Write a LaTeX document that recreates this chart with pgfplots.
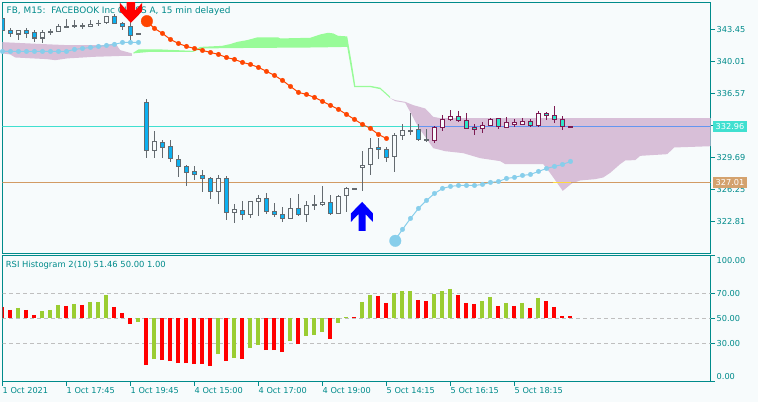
\documentclass[border=0pt]{standalone}
\usepackage{pgfplots}
\usepackage{fontspec}
\setmainfont{DejaVu Sans}
\pgfplotsset{compat=1.18}
\definecolor{bgc}{HTML}{F7FBFC}
\definecolor{frm}{HTML}{008B8B}
\definecolor{grayc}{HTML}{646B70}
\definecolor{bluec}{HTML}{0CB0F0}
\definecolor{marc}{HTML}{7D1A52}
\definecolor{cyanc}{HTML}{30E6C8}
\definecolor{thist}{HTML}{D8BFD8}
\definecolor{palg}{HTML}{98FB98}
\definecolor{orr}{HTML}{FF4500}
\definecolor{skyb}{HTML}{87CEEB}
\definecolor{turq}{HTML}{40E0D0}
\definecolor{tanl}{HTML}{D29B64}
\definecolor{tanb}{HTML}{D4A26E}
\definecolor{lineb}{HTML}{6496F0}
\definecolor{goldl}{HTML}{FFD83C}
\definecolor{barg}{HTML}{9ACD32}
% {wick}{fill}{index}{high}{low}{body top}{body bottom}
\newcommand\candle[7]{%
  \pgfmathsetmacro\xa{#3-0.25}\pgfmathsetmacro\xb{#3+0.25}%
  \addplot[#1,line width=1.15pt,forget plot] coordinates {(#3,#4)(#3,#5)};
  \edef\tmp{\noexpand\addplot[draw=#1,fill=#2,line width=1.15pt,forget plot] coordinates {(\xa,#6)(\xb,#6)(\xb,#7)(\xa,#7)} -- cycle;}\tmp
}
\newcommand\gb{\candle{grayc}{bluec}}
\newcommand\gw{\candle{grayc}{bgc}}
\newcommand\mc{\candle{marc}{cyanc}}
\newcommand\mw{\candle{marc}{bgc}}
\pgfplotsset{panel/.style={
  scale only axis, width=708pt,
  axis line style={frm,line width=1pt},
  tick style={frm,line width=1pt},
  major tick length=4.5pt, tick align=outside,
  ytick pos=right, yticklabel pos=right,
  ticklabel style={frm,font=\fontsize{8.2}{10}\selectfont,inner sep=0pt},
  yticklabel style={anchor=west,xshift=1.5pt},
  clip=true}}
\begin{document}
\begin{tikzpicture}[x=1pt,y=1pt]
\fill[bgc] (0,0) rectangle (758,402);
\begin{axis}[panel, at={(2.5pt,148.5pt)}, anchor=south west, height=251pt,
  xmin=0, xmax=88.5,
  ymin=319.325, ymax=346.35, xtick=\empty,
  ytick={322.81,326.25,329.69,333.13,336.57,340.01,343.45},
  yticklabels={322.81,326.25,329.69,333.13,336.57,340.01,343.45}]
% kumo, thistle, left part
\addplot[fill=thist,draw=none,forget plot] coordinates {(-0.04,342.08)(5.09,341.87)(8.09,341.76)(12.84,341.76)(14.09,341.97)(14.71,341.22)(16.18,340.87)(16.18,340.61)(15.34,340.61)(11.34,340.50)(10.09,340.43)(8.09,340.33)(6.59,340.14)(5.59,340.25)(1.59,340.43)(0.96,340.76)(-0.04,340.87)} -- cycle;
% kumo, green
\addplot[fill=palg,draw=none,forget plot] coordinates {(16.38,340.97)(17.0,341.30)(19.71,341.30)(23.84,341.14)(24.71,341.57)(27.43,341.68)(28.46,341.87)(29.34,342.11)(30.59,342.30)(31.84,342.59)(34.46,342.59)(34.71,342.48)(38.46,342.55)(39.71,342.91)(40.71,343.09)(41.34,343.02)(41.96,342.76)(43.09,342.70)(43.34,341.40)(43.63,339.96)(43.96,338.17)(44.09,337.38)(45.96,337.38)(47.21,337.18)(48.46,336.21)(48.46,336.05)(47.21,337.02)(45.96,337.24)(43.96,337.24)(43.71,338.53)(43.34,340.33)(43.09,341.57)(39.34,341.51)(28.46,341.44)(24.93,341.40)(23.84,341.04)(18.46,341.04)(16.34,340.87)} -- cycle;
% kumo, thistle, right part
\addplot[fill=thist,draw=none,forget plot] coordinates {(48.46,336.05)(49.09,335.84)(50.34,335.65)(51.34,335.30)(52.84,334.94)(53.84,334.04)(54.71,333.90)(88.6,333.90)(88.6,330.88)(83.96,330.74)(83.09,330.02)(79.71,329.84)(79.09,329.38)(77.84,329.34)(77.21,328.95)(75.96,328.01)(75.09,327.51)(74.09,327.33)(72.21,327.19)(71.21,326.90)(70.03,326.07)(68.46,327.98)(67.59,328.95)(62.84,328.95)(62.21,329.27)(59.71,329.59)(57.59,330.13)(55.34,330.34)(54.34,330.56)(53.84,330.67)(51.96,332.96)(50.34,335.55)(49.09,335.73)} -- cycle;
% price lines
\addplot[turq,line width=1.1pt,forget plot] coordinates {(0,332.96)(52,332.96)};
\addplot[lineb,line width=1.1pt,forget plot] coordinates {(52,332.96)(88.6,332.96)};
\addplot[tanl,line width=1.1pt,forget plot] coordinates {(0,327.01)(88.6,327.01)};
\addplot[goldl,line width=1.1pt,forget plot] coordinates {(68.8,327.01)(71,327.01)};
\node[anchor=base west,inner sep=0pt,text=frm,font=\fontsize{8.9}{10}\selectfont] at (rel axis cs:0.0057,0.958) {FB, M15:\ \ FACEBOOK Inc CLASS A, 15 min delayed};
% candles
\gb{0}{344.67}{343.38}{344.67}{343.38}
\gb{1}{343.59}{342.62}{343.38}{343.0}
\gw{2}{343.38}{342.30}{343.38}{342.95}
\gb{3}{343.59}{342.52}{343.38}{343.0}
\gb{4}{343.38}{342.08}{343.16}{342.52}
\gw{5}{343.38}{341.97}{343.16}{342.52}
\gw{6}{343.48}{342.84}{343.21}{343.10}
\gw{7}{344.02}{343.21}{343.81}{343.21}
\gb{8}{344.56}{343.65}{343.81}{343.70}
\gb{9}{344.45}{343.59}{343.86}{343.75}
\gw{10}{344.13}{343.48}{343.86}{343.81}
\gw{11}{344.45}{343.75}{344.02}{343.75}
\gw{12}{344.45}{343.81}{344.13}{344.07}
\gw{13}{344.94}{344.02}{344.83}{344.18}
\gb{14}{345.10}{344.07}{344.88}{344.07}
\gb{15}{344.24}{343.38}{344.13}{343.75}
\gb{16}{344.24}{342.30}{343.81}{342.84}
\gw{17}{343.05}{342.89}{343.05}{342.89}
\gb{18}{335.91}{329.59}{335.59}{330.42}
\gw{19}{332.47}{329.59}{331.39}{330.42}
\gb{20}{331.50}{329.59}{331.28}{330.75}
\gb{21}{331.50}{329.16}{330.85}{329.56}
\gb{22}{329.88}{327.55}{329.45}{328.70}
\gb{23}{328.80}{326.58}{328.70}{328.05}
\gb{24}{328.70}{327.22}{328.16}{327.84}
\gb{25}{328.30}{325.93}{327.73}{327.41}
\gb{26}{327.52}{325.18}{327.41}{326.01}
\gw{27}{327.73}{324.64}{327.41}{326.01}
\gb{28}{327.62}{322.92}{327.41}{323.75}
\gw{29}{324.61}{322.59}{324.07}{323.75}
\gb{30}{324.93}{322.92}{323.96}{323.53}
\gw{31}{324.93}{323.13}{324.93}{323.53}
\gw{32}{325.58}{323.35}{325.25}{324.93}
\gb{33}{325.79}{323.56}{325.25}{323.85}
\gb{34}{324.71}{323.24}{323.85}{323.53}
\gb{35}{324.32}{322.70}{323.53}{323.10}
\gw{36}{325.29}{323.10}{324.18}{323.10}
\gb{37}{325.72}{323.35}{324.18}{323.53}
\gw{38}{324.96}{322.70}{324.50}{323.53}
\gw{39}{325.61}{323.99}{324.56}{324.50}
\gw{40}{326.58}{324.42}{324.82}{324.56}
\gb{41}{325.58}{323.45}{324.82}{323.64}
\gw{42}{325.58}{323.56}{325.47}{323.64}
\gw{43}{326.44}{323.78}{326.33}{325.58}
\gw{44}{326.33}{326.22}{326.33}{326.22}
\gw{45}{330.35}{326.07}{328.80}{328.55}
\gw{46}{331.71}{327.79}{330.64}{328.91}
\gb{47}{331.71}{329.52}{330.75}{330.53}
\gb{48}{330.75}{329.20}{330.53}{329.67}
\gw{49}{332.25}{328.12}{332.04}{329.78}
\gw{50}{333.22}{331.53}{332.58}{332.04}
\gw{51}{334.41}{332.04}{332.58}{332.47}
\gb{52}{333.22}{331.42}{332.68}{331.60}
\gw{53}{332.68}{331.28}{331.60}{331.50}
\mw{54}{333.00}{331.17}{332.90}{331.50}
\mw{55}{334.19}{332.53}{333.76}{332.90}
\mw{56}{334.76}{333.54}{334.08}{333.76}
\mc{57}{334.69}{333.44}{334.08}{333.65}
\mc{58}{334.41}{332.68}{333.65}{332.79}
\mc{59}{333.22}{332.07}{332.90}{332.68}
\mw{60}{333.44}{332.25}{333.11}{332.79}
\mw{61}{333.87}{333.00}{333.76}{333.11}
\mc{62}{333.87}{332.75}{333.87}{333.00}
\mw{63}{333.98}{332.79}{333.44}{332.90}
\mw{64}{333.76}{332.90}{333.44}{333.22}
\mw{65}{333.87}{333.11}{333.54}{333.22}
\mc{66}{333.76}{332.90}{333.54}{333.11}
\mw{67}{334.65}{332.90}{334.41}{333.11}
\mc{68}{334.51}{333.68}{334.41}{334.19}
\mc{69}{335.19}{333.33}{334.19}{333.76}
\mc{70}{334.08}{332.64}{333.76}{333.00}
\mw{71}{333.04}{332.93}{333.04}{332.93}
% light blue dotted line, left
\addplot[skyb,line width=1pt,mark=*,mark size=2.3pt,mark options={draw=skyb,fill=skyb,line width=0.3pt},forget plot] coordinates {(0,341.08)(1,341.08)(2,341.08)(3,341.08)(4,341.08)(5,341.08)(6,341.08)(7,341.08)(8,341.08)(9,341.30)(10,341.40)(11,341.51)(12,341.62)(13,341.73)(14,341.84)(15,342.05)(16,342.05)(17,342.05)};
% light blue dotted line, right
\addplot[skyb,line width=1pt,mark=*,mark size=2.3pt,mark options={draw=skyb,fill=skyb,line width=0.3pt},forget plot] coordinates {(49,320.69)(50,321.92)(51,323.10)(52,324.18)(53,325.04)(54,325.79)(55,326.33)(56,326.55)(57,326.65)(58,326.65)(59,326.65)(60,326.76)(61,326.98)(62,327.08)(63,327.41)(64,327.52)(65,327.73)(66,327.84)(67,328.16)(68,328.48)(69,328.70)(70,328.91)(71,329.24)};
\addplot[skyb,only marks,mark=*,mark size=5.8pt,mark options={draw=skyb,fill=skyb,line width=0.3pt},forget plot] coordinates {(49.1,320.69)};
% orange dotted line
\addplot[orr,line width=1pt,mark=*,mark size=2.3pt,mark options={draw=orr,fill=orr,line width=0.3pt},forget plot] coordinates {(18,344.34)(19,343.56)(20,343.02)(21,342.37)(22,341.94)(23,341.62)(24,341.40)(25,341.19)(26,340.97)(27,340.76)(28,340.43)(29,340.22)(30,339.90)(31,339.68)(32,339.36)(33,338.93)(34,338.50)(35,337.96)(36,337.31)(37,336.67)(38,336.45)(39,336.13)(40,335.70)(41,335.27)(42,334.84)(43,334.30)(44,333.76)(45,333.22)(46,332.79)(47,332.14)(48,331.71)};
\addplot[orr,only marks,mark=*,mark size=5.8pt,mark options={draw=orr,fill=orr,line width=0.3pt},forget plot] coordinates {(18.05,344.34)};
% arrows
\addplot[fill=red,draw=none,forget plot] coordinates {(16.05,344.16)(17.46,345.41)(17.46,346.31)(16.59,345.49)(16.59,347.25)(15.53,347.25)(15.53,345.49)(14.68,346.31)(14.68,345.41)} -- cycle;
\addplot[fill=blue,draw=none,forget plot] coordinates {(44.96,324.88)(46.30,323.64)(46.30,322.73)(45.38,323.56)(45.38,321.77)(44.50,321.77)(44.50,323.56)(43.55,322.73)(43.55,323.64)} -- cycle;
\end{axis}
\begin{axis}[panel, at={(2.5pt,21pt)}, anchor=south west, height=125.5pt,
  xmin=0.0625, xmax=88.5625,
  ymin=0, ymax=100.2,
  xtick={0.0625,8.0625,16.0625,24.0625,32.0625,40.0625,48.0625,56.0625,64.0625},
  xticklabels={1 Oct 2021,1 Oct 17:45,1 Oct 19:45,4 Oct 15:00,4 Oct 17:00,4 Oct 19:00,5 Oct 14:15,5 Oct 16:15,5 Oct 18:15},
  xtick pos=bottom, xticklabel pos=bottom,
  xticklabel style={anchor=north west,yshift=-2pt},
  ytick={0,30,50,70,100},
  yticklabels={\raisebox{5pt}[\height][0pt]{0.00},30.00,50.00,70.00,\raisebox{-4.3pt}[\height][0pt]{100.00}}]
\addplot[gray!50,line width=1pt,dash pattern=on 4pt off 3pt,forget plot] coordinates {(0,30)(88.6,30)};
\addplot[gray!50,line width=1pt,dash pattern=on 4pt off 3pt,forget plot] coordinates {(0,50)(88.6,50)};
\addplot[gray!50,line width=1pt,dash pattern=on 4pt off 3pt,forget plot] coordinates {(0,70)(88.6,70)};
% red histogram bars
\addplot[draw=none,forget plot,error bars/.cd,y dir=minus,y explicit,error mark=none,error bar style={red,line width=4pt}] table[x=i,y=v,y error expr=\thisrow{v}-50] {
i v
0 59.1
1 56.7
3 56.7
4 52.7
8 59.9
10 60.7
14 59.1
15 54.3
16 45.5
18 12.7
20 16.7
21 15.9
22 14.3
23 14.3
24 13.5
25 13.5
26 11.9
28 15.9
30 17.5
33 24.7
34 24.7
35 23.1
37 29.5
41 33.5
44 51.1
47 67.9
48 62.3
52 64.7
53 63.9
57 68.7
58 62.3
59 61.5
62 59.9
64 59.9
66 58.3
68 63.9
69 59.1
70 51.9
71 51.9
};
% green histogram bars
\addplot[draw=none,forget plot,error bars/.cd,y dir=minus,y explicit,error mark=none,error bar style={barg,line width=4pt}] table[x=i,y=v,y error expr=\thisrow{v}-50] {
i v
2 58.3
5 55.9
6 56.7
7 60.7
9 61.5
11 63.1
12 63.1
13 68.7
17 47.1
19 17.5
27 21.5
29 18.3
31 26.3
32 28.7
36 31.9
38 35.9
39 36.7
40 39.1
42 46.3
43 51.1
45 63.1
46 68.7
49 70.0
50 71.9
51 71.9
54 69.5
55 71.9
56 73.5
60 63.9
61 67.1
63 62.3
65 62.3
67 66.3
};
\node[anchor=base west,inner sep=0pt,text=frm,font=\fontsize{8.4}{10}\selectfont] at (rel axis cs:0.0045,0.906) {RSI Histogram 2(10) 51.46 50.00 1.00};
\end{axis}
\fill[turq] (713,270) rectangle (747,281);
\node[white,font=\fontsize{8.2}{10}\selectfont,inner sep=0pt] at (730,275.5) {332.96};
\fill[tanb] (713,214) rectangle (747,225);
\node[white,font=\fontsize{8.2}{10}\selectfont,inner sep=0pt] at (730,219.5) {327.01};
\end{tikzpicture}
\end{document}
